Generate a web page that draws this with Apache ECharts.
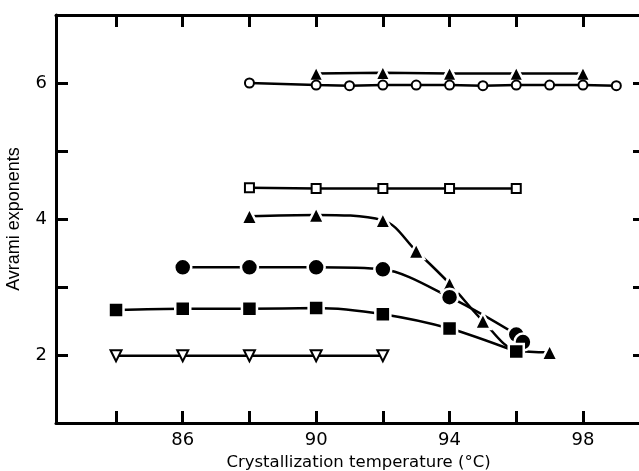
<!DOCTYPE html>
<html>
<head>
<meta charset="utf-8">
<script src="https://cdn.jsdelivr.net/npm/echarts@6/dist/echarts.min.js"></script>
<style>
html, body { margin: 0; padding: 0; background: #fff; }
#chart { width: 639px; height: 471px; }
</style>
</head>
<body>
<div id="chart"></div>
<script>
// Avrami exponents vs crystallization temperature

// open circles
var tOpenCircle = [88, 90, 91, 92, 93, 94, 95, 96, 97, 98, 99];
var nOpenCircle = [6.0, 5.97, 5.96, 5.97, 5.97, 5.97, 5.96, 5.97, 5.97, 5.97, 5.96];
// filled triangles, upper row
var tTriUp = [90, 92, 94, 96, 98];
var nTriUp = [6.14, 6.15, 6.14, 6.14, 6.14];
// open squares
var tOpenSquare = [88, 90, 92, 94, 96];
var nOpenSquare = [4.46, 4.45, 4.45, 4.45, 4.45];
// filled triangles, falling
var tTriDown = [88, 90, 92, 93, 94, 95, 96, 97];
var nTriDown = [4.04, 4.06, 3.98, 3.53, 3.05, 2.5, 2.07, 2.04];
// filled circles
var tCircle = [86, 88, 90, 92, 94, 96, 96.2];
var nCircle = [3.29, 3.29, 3.29, 3.26, 2.85, 2.3, 2.19];
// filled squares
var tSquare = [84, 86, 88, 90, 92, 94, 96];
var nSquare = [2.66, 2.68, 2.68, 2.69, 2.6, 2.39, 2.05];
// open inverted triangles
var tOpenTri = [84, 86, 88, 90, 92];
var nOpenTri = [1.99, 1.99, 1.99, 1.99, 1.99];

var xTicks = [84, 86, 88, 90, 92, 94, 96, 98];
var xLabels = [86, 90, 94, 98];
var yTicks = [2, 3, 4, 5, 6];
var yLabels = [2, 4, 6];

function pairs(xs, ys) {
	var out = [];
	for (var i = 0; i < xs.length; i++) {
		out.push([xs[i], ys[i]]);
	}
	return out;
}

function mkSeries(xs, ys, symbol, size, filled, smooth, extra) {
	var s = {
		type: 'line',
		data: pairs(xs, ys),
		symbol: symbol,
		symbolSize: size,
		smooth: smooth,
		lineStyle: { color: '#000', width: 2.5 },
		itemStyle: filled
			? { color: '#000', borderColor: '#fff', borderWidth: 2.5 }
			: { color: '#000', borderColor: '#000', borderWidth: 3 },
		emphasis: { disabled: true },
		animation: false
	};
	for (var k in extra) s[k] = extra[k];
	return s;
}

var myChart = echarts.init(document.getElementById('chart'));

var axisLine = { show: true, lineStyle: { color: '#000', width: 3 } };
var tickStyle = { color: '#000', width: 3 };

option = {
	backgroundColor: '#fff',
	grid: { left: 56, top: 15, width: 587, height: 408, outerBoundsMode: 'none', containLabel: false },
	xAxis: [
		{
			type: 'value', position: 'bottom', min: 82.2, max: 99.8,
			axisLine: axisLine,
			axisTick: { show: true, inside: true, length: 12, customValues: xTicks, lineStyle: tickStyle },
			axisLabel: { customValues: xLabels, color: '#000', fontSize: 18, margin: 8, fontFamily: 'DejaVu Sans' },
			splitLine: { show: false },
			name: 'Crystallization temperature (°C)',
			nameLocation: 'middle',
			nameGap: 31,
			nameTextStyle: { color: '#000', fontSize: 16.5, fontFamily: 'DejaVu Sans', padding: [0, 0, 0, 18] }
		},
		{
			type: 'value', position: 'top', min: 82.2, max: 99.8,
			axisLine: axisLine,
			axisTick: { show: true, inside: true, length: 12, customValues: xTicks, lineStyle: tickStyle },
			axisLabel: { show: false },
			splitLine: { show: false }
		}
	],
	yAxis: [
		{
			type: 'value', position: 'left', min: 1, max: 7,
			axisLine: axisLine,
			axisTick: { show: true, inside: true, length: 12, customValues: yTicks, lineStyle: tickStyle },
			axisLabel: { customValues: yLabels, color: '#000', fontSize: 18, margin: 9, fontFamily: 'DejaVu Sans' },
			splitLine: { show: false },
			name: 'Avrami exponents',
			nameLocation: 'middle',
			nameGap: 33,
			nameTextStyle: { color: '#000', fontSize: 18, fontFamily: 'Liberation Sans' }
		},
		{
			type: 'value', position: 'right', min: 1, max: 7,
			axisLine: { show: false },
			axisTick: { show: true, inside: true, length: 10, customValues: yTicks, lineStyle: tickStyle },
			axisLabel: { show: false },
			splitLine: { show: false }
		}
	],
	series: [
		mkSeries(tTriUp, nTriUp, 'triangle', 15, true, false, {}),
		mkSeries(tOpenCircle, nOpenCircle, 'emptyCircle', 9, false, false, {}),
		mkSeries(tOpenSquare, nOpenSquare, 'emptyRect', 9, false, false, {}),
		mkSeries(tTriDown, nTriDown, 'triangle', 16, true, 0.35, {}),
		mkSeries(tCircle, nCircle, 'circle', 17, true, 0.3, {}),
		mkSeries(tSquare, nSquare, 'rect', 15, true, 0.3, {}),
		mkSeries(tOpenTri, nOpenTri, 'emptyTriangle', 11, false, false, { symbolRotate: 180 })
	]
};

myChart.setOption(option);
</script>
</body>
</html>
